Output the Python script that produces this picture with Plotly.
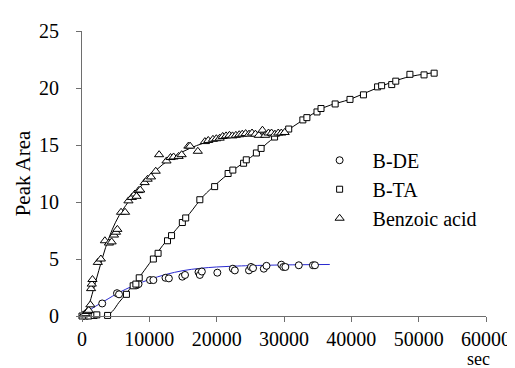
import plotly.graph_objects as go

# B-DE (circles)
bde_x = [300, 700, 3000, 5200, 5500, 8100, 8400, 10100, 10600, 12400, 12900, 14900, 15300,
         17300, 17500, 17800, 20100, 22400, 22700, 24800, 25100, 25400, 27000, 27400,
         29600, 29900, 30200, 32200, 34300, 34600]
bde_y = [0.05, 0.1, 1.1, 2.0, 1.9, 2.7, 2.8, 3.15, 3.15, 3.35, 3.3, 3.45, 3.6,
         3.85, 3.6, 3.9, 3.8, 4.15, 4.0, 4.0, 4.3, 4.2, 4.15, 4.4,
         4.5, 4.3, 4.3, 4.45, 4.45, 4.45]

# B-TA (squares)
bta_x = [0, 500, 1000, 1800, 2200, 3800, 6600, 7600, 8000, 8500, 10600, 11300, 12700, 13300,
         14900, 15400, 17500, 19700, 21700, 22400, 24000, 24400, 25900, 26600, 28600, 30700,
         32800, 33400, 34900, 35500, 37600, 39800, 41800, 43900, 44500, 46000, 46600, 48700,
         50800, 52300]
bta_y = [0, 0, 0, 0.05, 0.1, 0.05, 1.9, 2.65, 2.8, 3.35, 5.0, 5.5, 6.6, 7.05,
         8.2, 8.6, 10.2, 11.35, 12.5, 12.8, 13.4, 13.7, 14.3, 14.7, 15.7, 16.4,
         17.2, 17.4, 17.9, 18.2, 18.6, 19.0, 19.4, 20.1, 20.2, 20.3, 20.6, 21.2,
         21.15, 21.3]

# Benzoic acid (triangles)
ba_x = [200, 500, 800, 1000, 1250, 1350, 1450, 1550, 2350, 2800, 3400, 4000, 4400, 4750, 5050,
        5250, 5800, 6400, 6900, 7400, 7850, 8100, 8400, 8650, 9300, 9750, 10250, 10950, 11450,
        12550, 13150, 13600, 14350, 14800, 15800, 16050, 17200, 18250, 18750, 19450, 19950,
        20450, 20900, 21400, 21900, 22350, 22850, 23350, 23800, 24300, 24800, 25250, 25750,
        26250, 26800, 27200, 27700, 28150, 28650, 29150, 29600, 30100]
ba_y = [0.1, 0.2, 0.4, 0.5, 0.98, 2.4, 2.8, 3.2, 4.7, 5.0, 6.6, 6.4, 6.5, 7.1, 7.35,
        7.6, 9.1, 9.1, 10.1, 10.4, 10.7, 10.5, 11.0, 11.05, 11.7, 12.0, 12.2, 12.7, 14.15,
        13.6, 13.9, 13.95, 14.0, 14.15, 14.9, 14.9, 14.45, 15.3, 15.4, 15.5, 15.55,
        15.6, 15.75, 15.8, 15.85, 15.8, 15.85, 15.9, 15.95, 16.0, 15.95, 16.05, 15.95,
        15.85, 16.3, 15.85, 16.05, 16.05, 15.95, 16.05, 16.05, 16.1]

# Fitted curves
fit_bde_x = [200, 1000, 2000, 3000, 4000, 5000, 6500, 8000, 10000, 12500, 15000, 17500,
             20000, 22500, 25000, 30000, 36800]
fit_bde_y = [0.0, 0.45, 0.85, 1.2, 1.55, 1.9, 2.35, 2.75, 3.2, 3.65, 3.98, 4.18,
             4.3, 4.37, 4.42, 4.48, 4.52]

fit_bta_x = [0, 3500, 4500, 5500, 6500, 7500, 8500, 10000, 12000, 14000, 16000, 18000,
             20000, 22000, 24000, 26000, 28000, 30000, 33000, 36000, 40000, 44000, 48000, 52300]
fit_bta_y = [0, 0, 0.4, 1.2, 1.9, 2.7, 3.4, 4.6, 6.2, 7.6, 9.0, 10.5,
             11.6, 12.6, 13.45, 14.35, 15.4, 16.1, 17.25, 18.3, 19.05, 20.05, 20.9, 21.35]

fit_ba_x = [600, 1500, 2500, 3500, 4500, 5500, 6500, 7500, 8500, 10000, 12000, 14000,
            16000, 18000, 20000, 22000, 25000, 28000, 30200]
fit_ba_y = [0, 1.9, 4.0, 6.0, 7.6, 8.8, 9.7, 10.5, 11.2, 12.2, 13.3, 14.1,
            14.7, 15.15, 15.45, 15.7, 15.95, 16.1, 16.2]

x_ticks = [0, 10000, 20000, 30000, 40000, 50000, 60000]
y_ticks = [0, 5, 10, 15, 20, 25]

FONT = "Liberation Serif"

fig = go.Figure()

fig.add_trace(go.Scatter(x=fit_bde_x, y=fit_bde_y, mode="lines", line=dict(color="#2a2ad0", width=1, shape="spline"),
                         showlegend=False, hoverinfo="skip", cliponaxis=False))
fig.add_trace(go.Scatter(x=fit_bta_x, y=fit_bta_y, mode="lines", line=dict(color="black", width=1, shape="spline"),
                         showlegend=False, hoverinfo="skip", cliponaxis=False))
fig.add_trace(go.Scatter(x=fit_ba_x, y=fit_ba_y, mode="lines", line=dict(color="black", width=1, shape="spline"),
                         showlegend=False, hoverinfo="skip", cliponaxis=False))

fig.add_trace(go.Scatter(x=bde_x, y=bde_y, mode="markers", name="B-DE", cliponaxis=False,
                         marker=dict(symbol="circle", size=7, color="white", line=dict(color="black", width=1))))
fig.add_trace(go.Scatter(x=bta_x, y=bta_y, mode="markers", name="B-TA", cliponaxis=False,
                         marker=dict(symbol="square", size=6, color="white", line=dict(color="black", width=1))))
fig.add_trace(go.Scatter(x=ba_x, y=ba_y, mode="markers", name="Benzoic acid", cliponaxis=False,
                         marker=dict(symbol="triangle-up", size=8, color="white", line=dict(color="black", width=1))))

axis_common = dict(showgrid=False, zeroline=False, showline=True, linecolor="#6e6e6e", linewidth=1,
                   ticks="outside", ticklen=5, tickcolor="#6e6e6e", mirror=False,
                   tickfont=dict(family=FONT, size=20, color="black"))

fig.update_xaxes(range=[0, 60000], tickvals=x_ticks, ticktext=[str(v) for v in x_ticks], **axis_common)
fig.update_yaxes(range=[0, 25], tickvals=y_ticks, ticktext=[str(v) for v in y_ticks], ticklabelstandoff=13,
                 title=dict(text="Peak Area", font=dict(family=FONT, size=21, color="black"), standoff=2),
                 **axis_common)

fig.update_layout(
    width=515, height=368,
    margin=dict(l=74, r=27, t=20, b=60),
    paper_bgcolor="white", plot_bgcolor="white",
    font=dict(family=FONT, color="black"),
    legend=dict(x=0.556, y=0.615, xanchor="left", yanchor="top", bgcolor="rgba(0,0,0,0)",
                font=dict(family=FONT, size=20, color="black"), itemsizing="trace", itemwidth=56),
    annotations=[dict(text="sec", xref="paper", yref="paper", x=0.982, y=-0.15, xanchor="center",
                      yanchor="middle", showarrow=False, font=dict(family=FONT, size=18, color="black"))],
)

fig.write_html("out.html")
